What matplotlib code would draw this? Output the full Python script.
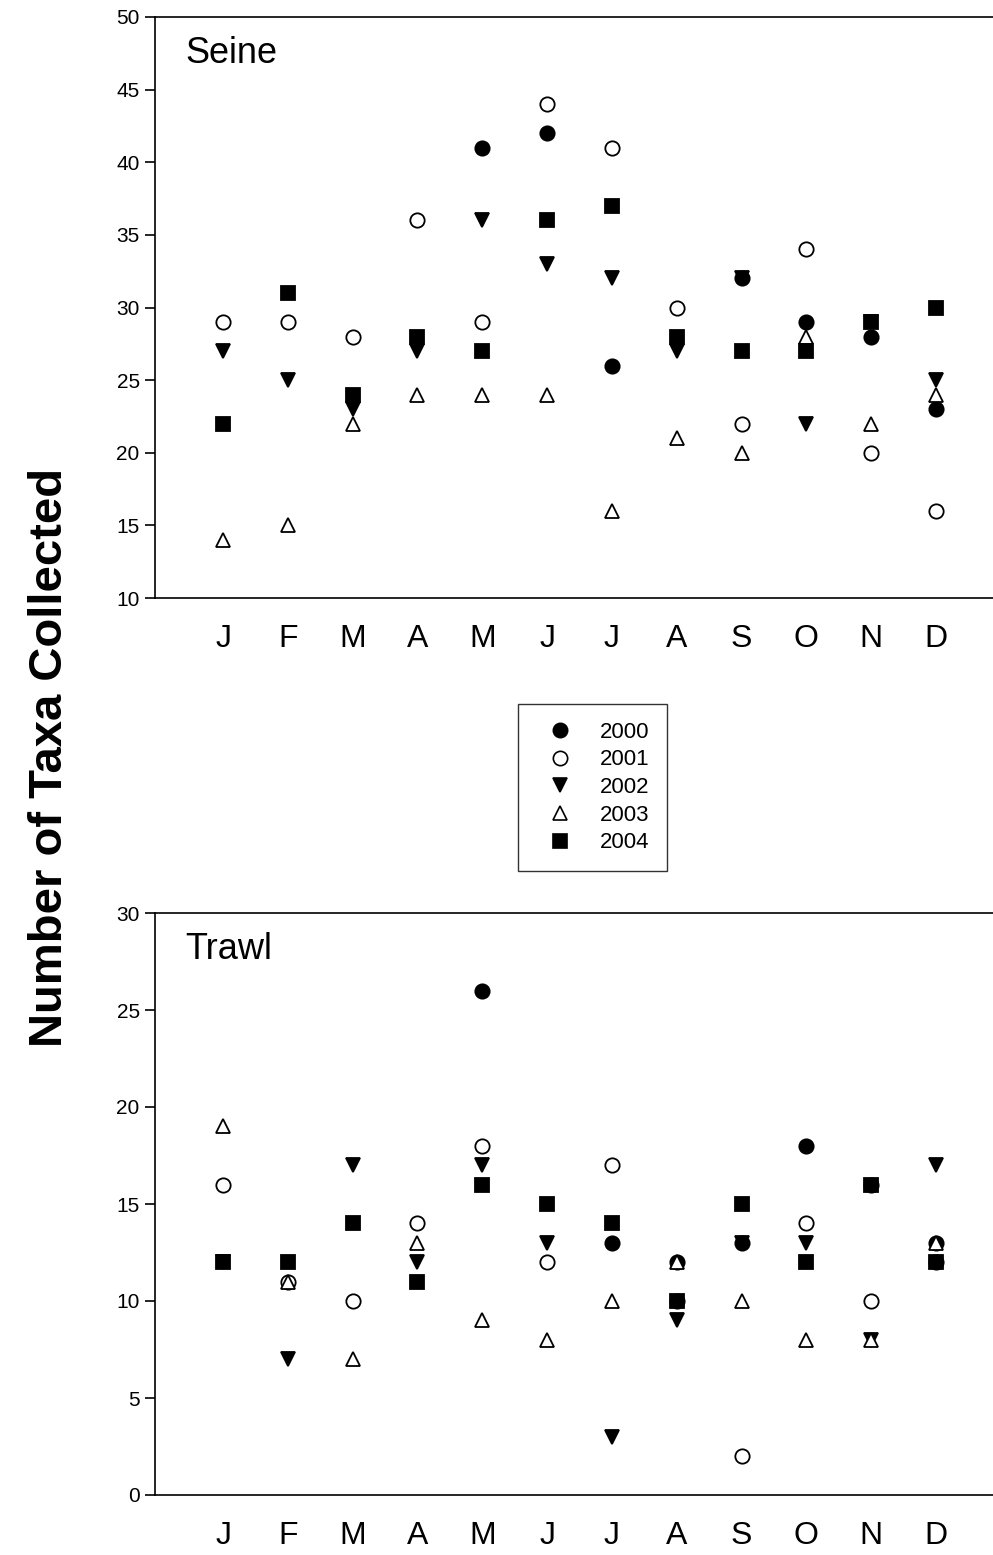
import numpy as np
import matplotlib
matplotlib.use("Agg")
import matplotlib.pyplot as plt
from matplotlib.lines import Line2D

plt.rcParams['font.family'] = ['Liberation Sans', 'DejaVu Sans']

months = ["J", "F", "M", "A", "M", "J", "J", "A", "S", "O", "N", "D"]
years = ["2000", "2001", "2002", "2003", "2004"]
nan = np.nan

# Seine samples: taxa per month
seine_2000 = [nan, nan, nan, nan, 41, 42, 26, nan, 32, 29, 28, 23]
seine_2001 = [29, 29, 28, 36, 29, 44, 41, 30, 22, 34, 20, 16]
seine_2002 = [27, 25, 23, 27, 36, 33, 32, 27, 32, 22, 29, 25]
seine_2003 = [14, 15, 22, 24, 24, 24, 16, 21, 20, 28, 22, 24]
seine_2004 = [22, 31, 24, 28, 27, 36, 37, 28, 27, 27, 29, 30]

# Trawl samples: taxa per month
trawl_2000 = [nan, nan, nan, nan, 26, nan, 13, 12, 13, 18, 16, 13]
trawl_2001 = [16, 11, 10, 14, 18, 12, 17, 10, 2, 14, 10, 12]
trawl_2002 = [12, 7, 17, 12, 17, 13, 3, 9, 13, 13, 8, 17]
trawl_2003 = [19, 11, 7, 13, 9, 8, 10, 12, 10, 8, 8, 13]
trawl_2004 = [12, 12, 14, 11, 16, 15, 14, 10, 15, 12, 16, 12]

seine = [seine_2000, seine_2001, seine_2002, seine_2003, seine_2004]
trawl = [trawl_2000, trawl_2001, trawl_2002, trawl_2003, trawl_2004]

styles = [
    dict(marker="o", markerfacecolor="black", markeredgecolor="black", markersize=10.3),
    dict(marker="o", markerfacecolor="white", markeredgecolor="black", markersize=10.3),
    dict(marker="v", markerfacecolor="black", markeredgecolor="black", markersize=10.3),
    dict(marker="^", markerfacecolor="white", markeredgecolor="black", markersize=10.3),
    dict(marker="s", markerfacecolor="black", markeredgecolor="black", markersize=9.7),
]
# stacking order of the series where points coincide
zorders = [3.2, 3.3, 3.1, 3.4, 3.5]

x = np.arange(1, 13)

fig = plt.figure(figsize=(9.93, 15.55), dpi=100)

W = 993.0
H = 1555.0


def make_axes(top_px, bottom_px):
    left = 155 / W
    return fig.add_axes([left, 1 - bottom_px / H, 1 - left, (bottom_px - top_px) / H])


def style_axes(ax, ylim, yticks, title):
    ax.set_xlim(-0.05, 12.88)
    ax.set_ylim(*ylim)
    ax.set_yticks(yticks)
    ax.set_xticks(x)
    ax.set_xticklabels(months, fontsize=23)
    ax.tick_params(axis="x", length=0, pad=19)
    ax.tick_params(axis="y", direction="out", length=7, width=1.2, labelsize=15, pad=4)
    ax.spines["right"].set_visible(False)
    for s in ("left", "top", "bottom"):
        ax.spines[s].set_linewidth(1.2)
    ax.text(0.036, 0.921, title, transform=ax.transAxes, fontsize=26,
            ha="left", va="baseline")


ax1 = make_axes(17, 598)
for vals, st, z in zip(seine, styles, zorders):
    ax1.plot(x, vals, linestyle="none", markeredgewidth=1.3, zorder=z, **st)
style_axes(ax1, (10, 50), np.arange(10, 51, 5), "Seine")

ax2 = make_axes(913, 1495)
for vals, st, z in zip(trawl, styles, zorders):
    ax2.plot(x, vals, linestyle="none", markeredgewidth=1.3, zorder=z, **st)
style_axes(ax2, (0, 30), np.arange(0, 31, 5), "Trawl")

handles = [Line2D([], [], linestyle="none", markeredgewidth=1.2, **st) for st in styles]
leg = fig.legend(handles, years, loc="center",
                 bbox_to_anchor=(592.5 / W, 1 - 787.5 / H), fontsize=16,
                 frameon=True, fancybox=False, edgecolor="black",
                 handletextpad=0.7, borderpad=0.8, labelspacing=0.3,
                 handlelength=2.2, borderaxespad=0)
leg.get_frame().set_linewidth(1.0)

fig.text(50 / W, 1 - 757 / H, "Number of Taxa Collected", rotation=90,
         fontsize=34, fontweight="bold", ha="center", va="center")

fig.savefig("out.png", dpi=100)
